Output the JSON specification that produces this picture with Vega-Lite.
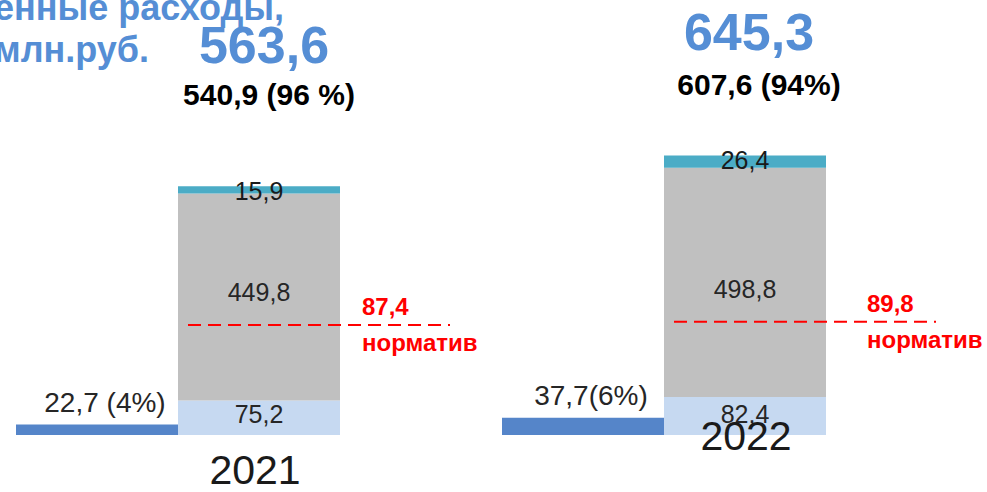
{
  "$schema": "https://vega.github.io/schema/vega-lite/v6.json",
  "autosize": {"type": "none"},
  "width": 972,
  "height": 435,
  "padding": {"left": 16, "top": 0, "right": 0, "bottom": 57},
  "background": "white",
  "config": {"view": {"stroke": null}, "font": "Liberation Sans"},
  "title": {
    "text": ["енные расходы,", "млн.руб."],
    "orient": "top",
    "anchor": "start",
    "frame": "group",
    "baseline": "top",
    "offset": -70,
    "dx": -22,
    "fontSize": 36,
    "fontWeight": "bold",
    "color": "#558ED5",
    "lineHeight": 42,
    "font": "Liberation Sans"
  },
  "datasets": {
    "bars": [
      {"col": "2021 экономия", "year": "2021", "seg": "экономия", "value": 22.7, "label": "22,7 (4%)"},
      {"col": "2021 расходы", "year": "2021", "seg": "часть 1", "value": 75.2, "label": "75,2"},
      {"col": "2021 расходы", "year": "2021", "seg": "часть 2", "value": 449.8, "label": "449,8"},
      {"col": "2021 расходы", "year": "2021", "seg": "часть 3", "value": 15.9, "label": "15,9"},
      {"col": "2022 экономия", "year": "2022", "seg": "экономия", "value": 37.7, "label": "37,7(6%)"},
      {"col": "2022 расходы", "year": "2022", "seg": "часть 1", "value": 82.4, "label": "82,4"},
      {"col": "2022 расходы", "year": "2022", "seg": "часть 2", "value": 498.8, "label": "498,8"},
      {"col": "2022 расходы", "year": "2022", "seg": "часть 3", "value": 26.4, "label": "26,4"}
    ],
    "totals": [
      {"col": "2021 расходы", "year": "2021", "total": 563.6, "spent": 540.9, "totalLabel": "563,6", "spentLabel": "540,9 (96 %)"},
      {"col": "2022 расходы", "year": "2022", "total": 645.3, "spent": 607.6, "totalLabel": "645,3", "spentLabel": "607,6 (94%)"}
    ],
    "norms": [
      {"col": "2021 расходы", "year": "2021", "level": 239, "norm": ["87,4", "норматив"]},
      {"col": "2022 расходы", "year": "2022", "level": 246, "norm": ["89,8", "норматив"]}
    ]
  },
  "layer": [
    {
      "data": {"name": "bars"},
      "mark": {"type": "bar"},
      "encoding": {
        "x": {
          "field": "col", "type": "nominal",
          "scale": {"domain": ["2021 экономия", "2021 расходы", "2021 норматив", "2022 экономия", "2022 расходы", "2022 норматив"], "paddingInner": 0, "paddingOuter": 0},
          "axis": null
        },
        "y": {"field": "value", "type": "quantitative", "stack": "zero", "scale": {"domain": [0, 945.6], "nice": false}, "axis": null},
        "color": {
          "field": "seg", "type": "nominal",
          "scale": {"domain": ["экономия", "часть 1", "часть 2", "часть 3"], "range": ["#5585C9", "#C6D9F1", "#C0C0C0", "#4BACC6"]},
          "legend": null
        },
        "order": {"field": "seg", "sort": "ascending"}
      }
    },
    {
      "data": {"name": "bars"},
      "transform": [
        {"filter": "datum.seg != 'экономия'"},
        {"stack": "value", "groupby": ["col"], "sort": [{"field": "seg", "order": "ascending"}], "as": ["v0", "v1"]},
        {"filter": "datum.seg == 'часть 1'"}
      ],
      "mark": {"type": "text", "fontSize": 25, "color": "#262626", "baseline": "middle", "dy": -20},
      "encoding": {
        "x": {"field": "col", "type": "nominal"},
        "y": {"field": "v0", "type": "quantitative"},
        "text": {"field": "label"}
      }
    },
    {
      "data": {"name": "bars"},
      "transform": [
        {"filter": "datum.seg != 'экономия'"},
        {"stack": "value", "groupby": ["col"], "sort": [{"field": "seg", "order": "ascending"}], "as": ["v0", "v1"]},
        {"filter": "datum.seg == 'часть 2'"}
      ],
      "mark": {"type": "text", "fontSize": 25, "color": "#262626", "baseline": "middle", "dy": -107},
      "encoding": {
        "x": {"field": "col", "type": "nominal"},
        "y": {"field": "v0", "type": "quantitative"},
        "text": {"field": "label"}
      }
    },
    {
      "data": {"name": "bars"},
      "transform": [
        {"filter": "datum.seg != 'экономия'"},
        {"stack": "value", "groupby": ["col"], "sort": [{"field": "seg", "order": "ascending"}], "as": ["v0", "v1"]},
        {"filter": "datum.seg == 'часть 3'"}
      ],
      "mark": {"type": "text", "fontSize": 25, "color": "#1A1A1A", "baseline": "middle", "dy": 6},
      "encoding": {
        "x": {"field": "col", "type": "nominal"},
        "y": {"field": "v1", "type": "quantitative"},
        "text": {"field": "label"}
      }
    },
    {
      "data": {"name": "bars"},
      "transform": [{"filter": "datum.seg == 'экономия'"}],
      "mark": {"type": "text", "fontSize": 28, "color": "#262626", "baseline": "bottom", "dy": -7, "dx": 8},
      "encoding": {
        "x": {"field": "col", "type": "nominal"},
        "y": {"field": "value", "type": "quantitative"},
        "text": {"field": "label"}
      }
    },
    {
      "data": {"name": "totals"},
      "transform": [{"filter": "datum.year == '2021'"}],
      "mark": {"type": "text", "fontSize": 52, "fontWeight": "bold", "color": "#558ED5", "baseline": "middle", "dy": -139, "dx": 5},
      "encoding": {
        "x": {"field": "col", "type": "nominal"},
        "y": {"field": "spent", "type": "quantitative"},
        "text": {"field": "totalLabel"}
      }
    },
    {
      "data": {"name": "totals"},
      "transform": [{"filter": "datum.year == '2022'"}],
      "mark": {"type": "text", "fontSize": 52, "fontWeight": "bold", "color": "#558ED5", "baseline": "middle", "dy": -121, "dx": 4},
      "encoding": {
        "x": {"field": "col", "type": "nominal"},
        "y": {"field": "spent", "type": "quantitative"},
        "text": {"field": "totalLabel"}
      }
    },
    {
      "data": {"name": "totals"},
      "transform": [{"filter": "datum.year == '2021'"}],
      "mark": {"type": "text", "fontSize": 30, "fontWeight": "bold", "color": "#000000", "baseline": "middle", "dy": -90, "dx": 10},
      "encoding": {
        "x": {"field": "col", "type": "nominal"},
        "y": {"field": "spent", "type": "quantitative"},
        "text": {"field": "spentLabel"}
      }
    },
    {
      "data": {"name": "totals"},
      "transform": [{"filter": "datum.year == '2022'"}],
      "mark": {"type": "text", "fontSize": 30, "fontWeight": "bold", "color": "#000000", "baseline": "middle", "dy": -69, "dx": 14},
      "encoding": {
        "x": {"field": "col", "type": "nominal"},
        "y": {"field": "spent", "type": "quantitative"},
        "text": {"field": "spentLabel"}
      }
    },
    {
      "data": {"name": "totals"},
      "transform": [{"filter": "datum.year == '2021'"}],
      "mark": {"type": "text", "fontSize": 41, "color": "#1A1A1A", "baseline": "middle", "dy": 37, "dx": -4},
      "encoding": {
        "x": {"field": "col", "type": "nominal"},
        "y": {"datum": 0, "type": "quantitative"},
        "text": {"field": "year"}
      }
    },
    {
      "data": {"name": "totals"},
      "transform": [{"filter": "datum.year == '2022'"}],
      "mark": {"type": "text", "fontSize": 41, "color": "#1A1A1A", "baseline": "middle", "dy": 3, "dx": 1},
      "encoding": {
        "x": {"field": "col", "type": "nominal"},
        "y": {"datum": 0, "type": "quantitative"},
        "text": {"field": "year"}
      }
    },
    {
      "data": {"name": "norms"},
      "mark": {"type": "rule", "color": "#FF0000", "strokeWidth": 2, "strokeDash": [13, 7], "xOffset": -71, "x2Offset": 191},
      "encoding": {
        "x": {"field": "col", "type": "nominal"},
        "x2": {"field": "col"},
        "y": {"field": "level", "type": "quantitative"}
      }
    },
    {
      "data": {"name": "norms"},
      "transform": [{"filter": "datum.year == '2021'"}],
      "mark": {"type": "text", "fontSize": 24, "fontWeight": "bold", "color": "#FF0000", "align": "left", "baseline": "middle", "lineHeight": 36, "dx": 103, "dy": -17},
      "encoding": {
        "x": {"field": "col", "type": "nominal"},
        "y": {"field": "level", "type": "quantitative"},
        "text": {"field": "norm"}
      }
    },
    {
      "data": {"name": "norms"},
      "transform": [{"filter": "datum.year == '2022'"}],
      "mark": {"type": "text", "fontSize": 24, "fontWeight": "bold", "color": "#FF0000", "align": "left", "baseline": "middle", "lineHeight": 36, "dx": 122, "dy": -17},
      "encoding": {
        "x": {"field": "col", "type": "nominal"},
        "y": {"field": "level", "type": "quantitative"},
        "text": {"field": "norm"}
      }
    }
  ]
}
